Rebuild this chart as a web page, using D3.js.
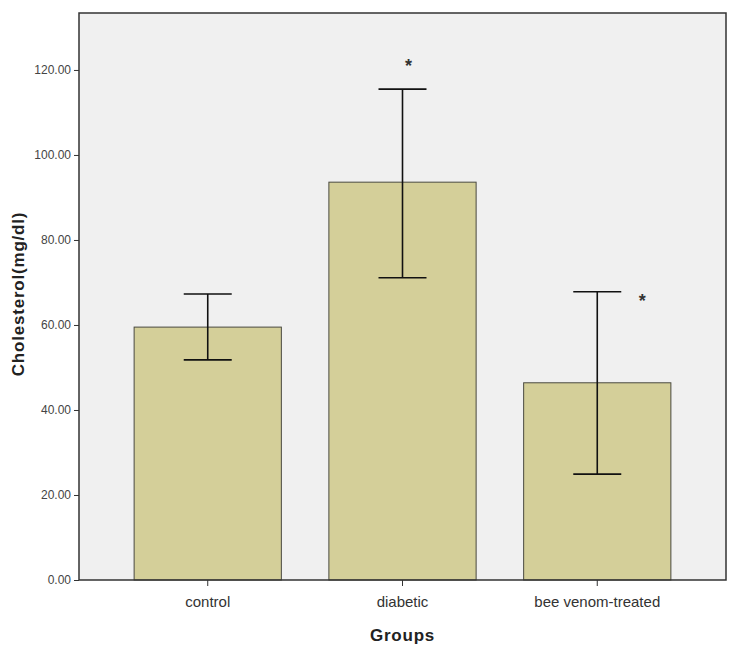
<!DOCTYPE html>
<html>
<head>
<meta charset="utf-8">
<script src="https://cdn.jsdelivr.net/npm/d3@7"></script>
<style>
  body { margin: 0; background: #fff; }
  text { font-family: "Liberation Sans", Arial, sans-serif; }
</style>
</head>
<body>
<div id="chart"></div>
<script>
// data
var groups    = ["control", "diabetic", "bee venom-treated"];
var means     = [59.5, 93.6, 46.4];
var errLow    = [51.8, 71.1, 24.9];
var errHigh   = [67.3, 115.5, 67.8];
var starred   = [false, true, true];
var yTicks    = [0, 20, 40, 60, 80, 100, 120];

var svgWidth = 734, svgHeight = 655;
var margin = { top: 13, right: 8, bottom: 75, left: 79 };
var width  = svgWidth - margin.left - margin.right;
var height = svgHeight - margin.top - margin.bottom;

var svg = d3.select("#chart").append("svg")
    .attr("width", svgWidth)
    .attr("height", svgHeight);

var g = svg.append("g")
    .attr("transform", `translate(${margin.left},${margin.top})`);

// plot background
g.append("rect")
    .attr("width", width).attr("height", height)
    .attr("fill", "#f0f0f0");

var x = d3.scaleBand()
    .domain(groups)
    .range([0, width])
    .paddingInner(0.244)
    .paddingOuter(0.283);

var y = d3.scaleLinear()
    .domain([0, 133.4])
    .range([height, 0]);

// bars
g.selectAll(".bar")
    .data(groups)
    .enter().append("rect")
        .attr("class", "bar")
        .attr("x", d => x(d))
        .attr("y", (d, i) => y(means[i]))
        .attr("width", x.bandwidth())
        .attr("height", (d, i) => y(0) - y(means[i]))
        .attr("fill", "#d4cf99")
        .attr("stroke", "#4a4a40")
        .attr("stroke-width", 1);

// error bars
var cap = 24;
var eb = g.selectAll(".err")
    .data(groups)
    .enter().append("g")
        .attr("class", "err")
        .attr("transform", d => `translate(${x(d) + x.bandwidth() / 2},0)`)
        .attr("stroke", "#111")
        .attr("stroke-width", 1.6);
eb.append("line")
    .attr("x1", 0).attr("x2", 0)
    .attr("y1", (d, i) => y(errLow[i]))
    .attr("y2", (d, i) => y(errHigh[i]));
eb.append("line")
    .attr("x1", -cap).attr("x2", cap)
    .attr("y1", (d, i) => y(errLow[i]))
    .attr("y2", (d, i) => y(errLow[i]));
eb.append("line")
    .attr("x1", -cap).attr("x2", cap)
    .attr("y1", (d, i) => y(errHigh[i]))
    .attr("y2", (d, i) => y(errHigh[i]));

// asterisks (diabetic above its bar, treated to the right of its cap)
g.selectAll(".star")
    .data(groups.filter((d, i) => starred[i]))
    .enter().append("text")
        .attr("class", "star")
        .attr("x", d => d == "diabetic" ? x(d) + x.bandwidth() / 2 + 6 : x(d) + x.bandwidth() / 2 + 45)
        .attr("y", d => d == "diabetic" ? y(errHigh[groups.indexOf(d)]) - 17 : y(errHigh[groups.indexOf(d)]) + 15)
        .attr("text-anchor", "middle")
        .attr("font-size", 18)
        .attr("font-weight", "bold")
        .attr("fill", "#333")
        .text("*");

// axes
var yAxis = d3.axisLeft(y)
    .tickValues(yTicks)
    .tickSize(5)
    .tickFormat(d3.format(".2f"));
g.append("g")
    .attr("class", "yAxis")
    .call(yAxis)
    .call(s => s.select(".domain").remove())
    .call(s => s.selectAll("text").attr("font-size", 12).attr("fill", "#444"))
    .call(s => s.selectAll("line").attr("stroke", "#333"));

var xAxis = d3.axisBottom(x).tickSize(6).tickPadding(10);
g.append("g")
    .attr("class", "xAxis")
    .attr("transform", `translate(0,${height})`)
    .call(xAxis)
    .call(s => s.select(".domain").remove())
    .call(s => s.selectAll("text").attr("font-size", 15).attr("fill", "#333"))
    .call(s => s.selectAll("line").attr("stroke", "#333"));

// frame
g.append("rect")
    .attr("width", width).attr("height", height)
    .attr("fill", "none")
    .attr("stroke", "#333")
    .attr("stroke-width", 1.5);

// axis titles
svg.append("text")
    .attr("transform", "translate(24,294) rotate(-90)")
    .attr("text-anchor", "middle")
    .attr("font-size", 17)
    .attr("font-weight", "bold")
    .attr("letter-spacing", 0.8)
    .attr("fill", "#222")
    .text("Cholesterol(mg/dl)");

svg.append("text")
    .attr("x", margin.left + x("diabetic") + x.bandwidth() / 2)
    .attr("y", 641)
    .attr("text-anchor", "middle")
    .attr("font-size", 17)
    .attr("font-weight", "bold")
    .attr("letter-spacing", 0.8)
    .attr("fill", "#222")
    .text("Groups");
</script>
</body>
</html>
